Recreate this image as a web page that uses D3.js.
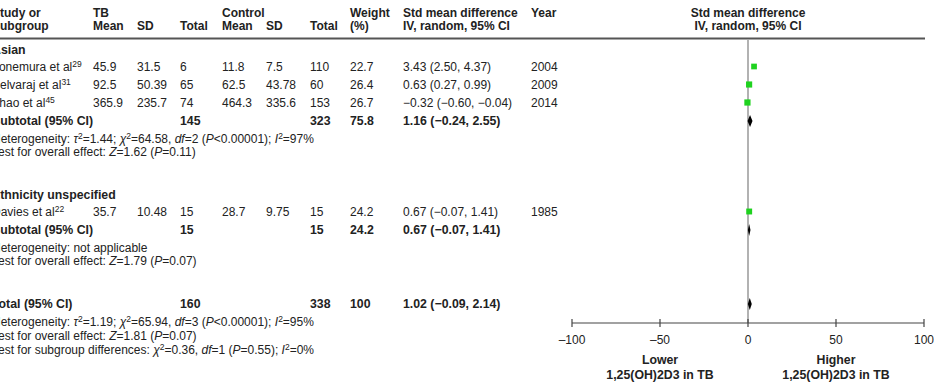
<!DOCTYPE html>
<html>
<head>
<meta charset="utf-8">
<script src="https://cdn.jsdelivr.net/npm/d3@7"></script>
<style>
  body { margin: 0; background: #fff; }
  text { font-family: "Liberation Sans", Arial, sans-serif; font-size: 12px; fill: #222; }
  .b { font-weight: bold; font-size: 12.3px; }
  .hd { font-weight: bold; font-size: 12px; }
</style>
</head>
<body>
<svg id="chart"></svg>
<script>
// study data
studies   = ['Yonemura et al', 'Selvaraj et al', 'Zhao et al', 'Davies et al'];
refs      = ['29', '31', '45', '22'];
group     = [0, 0, 0, 1];
tbMean    = ['45.9', '92.5', '365.9', '35.7'];
tbSD      = ['31.5', '50.39', '235.7', '10.48'];
tbTotal   = [6, 65, 74, 15];
ctMean    = ['11.8', '62.5', '464.3', '28.7'];
ctSD      = ['7.5', '43.78', '335.6', '9.75'];
ctTotal   = [110, 60, 153, 15];
weight    = [22.7, 26.4, 26.7, 24.2];
smd       = [3.43, 0.63, -0.32, 0.67];
smdLo     = [2.50, 0.27, -0.60, -0.07];
smdHi     = [4.37, 0.99, -0.04, 1.41];
years     = [2004, 2009, 2014, 1985];

// subgroups + overall
groups    = ['Asian', 'Ethnicity unspecified'];
subTb     = [145, 15];
subCt     = [323, 15];
subW      = ['75.8', '24.2'];
subEst    = [1.16, 0.67];
subLo     = [-0.24, -0.07];
subHi     = [2.55, 1.41];
total     = { tb: 160, ct: 338, w: '100', est: 1.02, lo: -0.09, hi: 2.14 };

xTicks    = [-100, -50, 0, 50, 100];

var W = 934, H = 382;
svg = d3.select('#chart').attr('width', W).attr('height', H);

function fmt(v) { return d3.format('.2f')(v).replace('-', '\u2013'); }
function ci(e, l, h) { return fmt(e) + ' (' + fmt(l) + ', ' + fmt(h) + ')'; }

// column x positions
col = { name: -8, tbM: 93, tbS: 137, tbT: 180, ctM: 222, ctS: 266, ctT: 310, w: 350, est: 403, yr: 531 };

function txt(x, y, s, cls) {
  return svg.append('text').attr('x', x).attr('y', y).attr('class', cls || null).text(s);
}

// header
var h1 = 17, h2 = 30;
[['name', 'Study or', 'Subgroup'], ['tbM', 'TB', 'Mean'], ['tbS', '', 'SD'], ['tbT', '', 'Total'],
 ['ctM', 'Control', 'Mean'], ['ctS', '', 'SD'], ['ctT', '', 'Total'], ['w', 'Weight', '(%)'],
 ['est', 'Std mean difference', 'IV, random, 95% CI'], ['yr', 'Year', '']].forEach(function(c) {
  if (c[1]) txt(col[c[0]], h1, c[1], 'hd');
  if (c[2]) txt(col[c[0]], h2, c[2], 'hd');
});

svg.append('line').attr('x1', 0).attr('x2', 925).attr('y1', 38.5).attr('y2', 38.5)
  .attr('stroke', '#555').attr('stroke-width', 2);

// row layout (vertical steps between lines)
rows = [];
function addRow(kind, step, d) { rows.push({ kind: kind, step: step, d: d }); }
groups.forEach(function(g, gi) {
  addRow('group', gi === 0 ? 0 : 43, gi);
  var first = true;
  studies.forEach(function(s, i) {
    if (group[i] === gi) { addRow('study', first ? 16.5 : 18, i); first = false; }
  });
  addRow('sub', 18.5, gi);
  addRow('het', 17.5, gi);
  addRow('test', 13.5, gi);
});
addRow('total', 43, null);
addRow('het', 18, 2);
addRow('test', 14, 2);
addRow('subdiff', 14, null);
var cy = 50;
rows.forEach(function(r) { cy += r.step; r.y = cy; });

hetText = [
  [['Heterogeneity: ', ''], ['\u03c4', 'i'], ['2', 's'], ['=1.44; ', ''], ['\u03c7', 'i'], ['2', 's'], ['=64.58, ', ''], ['df', 'i'], ['=2 (', ''], ['P', 'i'], ['<0.00001); ', ''], ['I', 'i'], ['2', 's'], ['=97%', '']],
  [['Heterogeneity: not applicable', '']],
  [['Heterogeneity: ', ''], ['\u03c4', 'i'], ['2', 's'], ['=1.19; ', ''], ['\u03c7', 'i'], ['2', 's'], ['=65.94, ', ''], ['df', 'i'], ['=3 (', ''], ['P', 'i'], ['<0.00001); ', ''], ['I', 'i'], ['2', 's'], ['=95%', '']]
];
testText = [
  [['Test for overall effect: ', ''], ['Z', 'i'], ['=1.62 (', ''], ['P', 'i'], ['=0.11)', '']],
  [['Test for overall effect: ', ''], ['Z', 'i'], ['=1.79 (', ''], ['P', 'i'], ['=0.07)', '']],
  [['Test for overall effect: ', ''], ['Z', 'i'], ['=1.81 (', ''], ['P', 'i'], ['=0.07)', '']]
];
subDiffText = [['Test for subgroup differences: ', ''], ['\u03c7', 'i'], ['2', 's'], ['=0.36, ', ''], ['df', 'i'], ['=1 (', ''], ['P', 'i'], ['=0.55); ', ''], ['I', 'i'], ['2', 's'], ['=0%', '']];

function rich(y, parts) {
  var t = svg.append('text').attr('x', col.name).attr('y', y);
  var raised = false;
  parts.forEach(function(p) {
    var ts = t.append('tspan').text(p[0]);
    if (p[1] === 'i') ts.attr('font-style', 'italic');
    if (p[1] === 's') { ts.attr('font-size', '8.5px').attr('dy', -4); raised = true; }
    else if (raised) { ts.attr('dy', 4); raised = false; }
  });
}

var base = 4;
rows.forEach(function(r) {
  var y = r.y + base;
  if (r.kind === 'group') txt(col.name, y, groups[r.d], 'b');
  if (r.kind === 'study') {
    var i = r.d;
    var t = txt(col.name, y, studies[i]);
    t.append('tspan').attr('font-size', '8.5px').attr('dy', -4).text(refs[i]);
    txt(col.tbM, y, tbMean[i]); txt(col.tbS, y, tbSD[i]); txt(col.tbT, y, tbTotal[i]);
    txt(col.ctM, y, ctMean[i]); txt(col.ctS, y, ctSD[i]); txt(col.ctT, y, ctTotal[i]);
    txt(col.w, y, weight[i]); txt(col.est, y, ci(smd[i], smdLo[i], smdHi[i])); txt(col.yr, y, years[i]);
  }
  if (r.kind === 'sub') {
    var g = r.d;
    txt(col.name, y, 'Subtotal (95% CI)', 'b');
    txt(col.tbT, y, subTb[g], 'b'); txt(col.ctT, y, subCt[g], 'b'); txt(col.w, y, subW[g], 'b');
    txt(col.est, y, ci(subEst[g], subLo[g], subHi[g]), 'b');
  }
  if (r.kind === 'total') {
    txt(col.name, y, 'Total (95% CI)', 'b');
    txt(col.tbT, y, total.tb, 'b'); txt(col.ctT, y, total.ct, 'b'); txt(col.w, y, total.w, 'b');
    txt(col.est, y, ci(total.est, total.lo, total.hi), 'b');
  }
  if (r.kind === 'het') rich(y, hetText[r.d]);
  if (r.kind === 'test') rich(y, testText[r.d]);
  if (r.kind === 'subdiff') rich(y, subDiffText);
});

// forest plot
x = d3.scaleLinear().domain([-100, 100]).range([572, 924]);
var axisY = 323;

svg.append('line').attr('x1', x(0)).attr('x2', x(0)).attr('y1', 40).attr('y2', axisY)
  .attr('stroke', '#999').attr('stroke-width', 1.5);

txt(x(0), h1, 'Std mean difference', 'hd').attr('text-anchor', 'middle');
txt(x(0), h2, 'IV, random, 95% CI', 'hd').attr('text-anchor', 'middle');

var axis = svg.append('g').attr('transform', 'translate(0,' + axisY + ')');
axis.append('line').attr('x1', x(-100)).attr('x2', x(100)).attr('stroke', '#444').attr('stroke-width', 1.2);
axis.selectAll('.tick').data(xTicks).enter().append('line')
  .attr('x1', function(d) { return x(d); }).attr('x2', function(d) { return x(d); })
  .attr('y1', -4).attr('y2', 4).attr('stroke', '#444').attr('stroke-width', 1.2);
axis.selectAll('.lab').data(xTicks).enter().append('text')
  .attr('x', function(d) { return x(d); }).attr('y', 21).attr('text-anchor', 'middle')
  .text(function(d) { return String(d).replace('-', '\u2013'); });

txt(x(-50), 364, 'Lower', 'b').attr('text-anchor', 'middle');
txt(x(-50), 379, '1,25(OH)2D3 in TB', 'b').attr('text-anchor', 'middle');
txt(x(50), 364, 'Higher', 'b').attr('text-anchor', 'middle');
txt(x(50), 379, '1,25(OH)2D3 in TB', 'b').attr('text-anchor', 'middle');

// study squares + CIs
rows.filter(function(r) { return r.kind === 'study'; }).forEach(function(r) {
  var i = r.d, s = Math.sqrt(weight[i]) * 1.2;
  svg.append('line').attr('x1', x(smdLo[i])).attr('x2', x(smdHi[i])).attr('y1', r.y).attr('y2', r.y)
    .attr('stroke', '#444').attr('stroke-width', 1);
  svg.append('rect').attr('x', x(smd[i]) - s / 2).attr('y', r.y - s / 2).attr('width', s).attr('height', s)
    .attr('fill', '#1fd21f');
});

// diamonds
function diamond(y, e, l, h) {
  svg.append('path')
    .attr('d', 'M' + x(l) + ',' + y + 'L' + x(e) + ',' + (y - 6) + 'L' + x(h) + ',' + y + 'L' + x(e) + ',' + (y + 6) + 'Z')
    .attr('fill', '#000');
}
rows.forEach(function(r) {
  if (r.kind === 'sub') diamond(r.y, subEst[r.d], subLo[r.d], subHi[r.d]);
  if (r.kind === 'total') diamond(r.y, total.est, total.lo, total.hi);
});
</script>
</body>
</html>
